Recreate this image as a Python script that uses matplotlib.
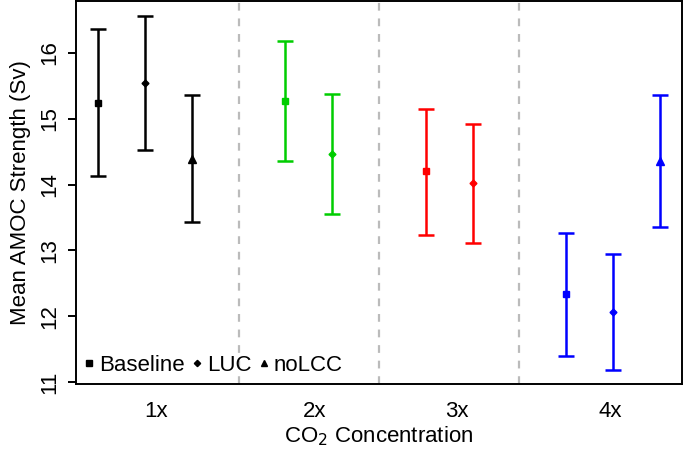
import matplotlib.pyplot as plt

plt.rcParams['font.family'] = ['Liberation Sans', 'DejaVu Sans']

# CO2 levels and their colours
groups = ['1x', '2x', '3x', '4x']
group_colors = ['black', '#00CD00', '#FF0000', '#0000FF']

# x slots for each scenario (empty slot where a run is missing)
baseline_pos = [0, 4, 7, 10]
baseline_mean = [15.24, 15.27, 14.20, 12.34]
baseline_lo = [14.13, 14.36, 13.24, 11.40]
baseline_hi = [16.36, 16.18, 15.15, 13.27]

luc_pos = [1, 5, 8, 11]
luc_mean = [15.54, 14.46, 14.02, 12.07]
luc_lo = [14.53, 13.56, 13.12, 11.18]
luc_hi = [16.56, 15.37, 14.92, 12.95]

nolcc_pos = [2, 12]
nolcc_mean = [14.39, 14.36]
nolcc_lo = [13.43, 13.35]
nolcc_hi = [15.36, 15.36]
nolcc_colors = ['black', '#0000FF']

sep_pos = [3, 6, 9]
label_pos = [1.23, 4.62, 7.66, 10.94]

fig = plt.figure(figsize=(6.85, 4.5), dpi=100)
ax = fig.add_axes([76 / 685, 66 / 450, 606 / 685, 383 / 450])

for x in sep_pos:
    ax.axvline(x, color='#BBBBBB', lw=1.6, ls=(0, (3.5, 3.5)), zorder=0)


def draw(pos, mean, lo, hi, colors, marker, ms):
    for x, m, l, h, c in zip(pos, mean, lo, hi, colors):
        ax.errorbar(x, m, yerr=[[m - l], [h - m]], fmt=marker, color=c,
                    ms=ms, elinewidth=1.8, capsize=6, capthick=1.8)


draw(baseline_pos, baseline_mean, baseline_lo, baseline_hi, group_colors, 's', 5)
draw(luc_pos, luc_mean, luc_lo, luc_hi, group_colors, 'D', 3.5)
draw(nolcc_pos, nolcc_mean, nolcc_lo, nolcc_hi, nolcc_colors, '^', 6)

# legend (black markers only)
h1, = ax.plot([], [], 's', color='black', ms=4)
h2, = ax.plot([], [], 'D', color='black', ms=3.2)
h3, = ax.plot([], [], '^', color='black', ms=4.5)
ax.legend([h1, h2, h3], ['Baseline', 'LUC', 'noLCC'], ncol=3, frameon=False,
          loc='lower left', bbox_to_anchor=(0.0, 0.0), fontsize=16,
          handlelength=0.5, handletextpad=0.2, columnspacing=0.3,
          borderaxespad=0.15, borderpad=0.2)

ax.set_xlim(-0.47, 12.47)
ax.set_ylim(10.97, 16.79)
ax.set_yticks([11, 12, 13, 14, 15, 16])
ax.set_xticks(label_pos)
ax.set_xticklabels(groups)
ax.tick_params(axis='x', length=0, pad=12, labelsize=16)
ax.tick_params(axis='y', length=6, width=1.4, pad=5, labelsize=16,
               labelrotation=90)
for t in ax.get_yticklabels():
    t.set_va('center')
for s in ax.spines.values():
    s.set_linewidth(1.4)

ax.set_xlabel('CO$_2$ Concentration', fontsize=16, labelpad=2)
ax.set_ylabel('Mean AMOC Strength (Sv)', fontsize=16, labelpad=6)

plt.savefig('out.png', dpi=100)
